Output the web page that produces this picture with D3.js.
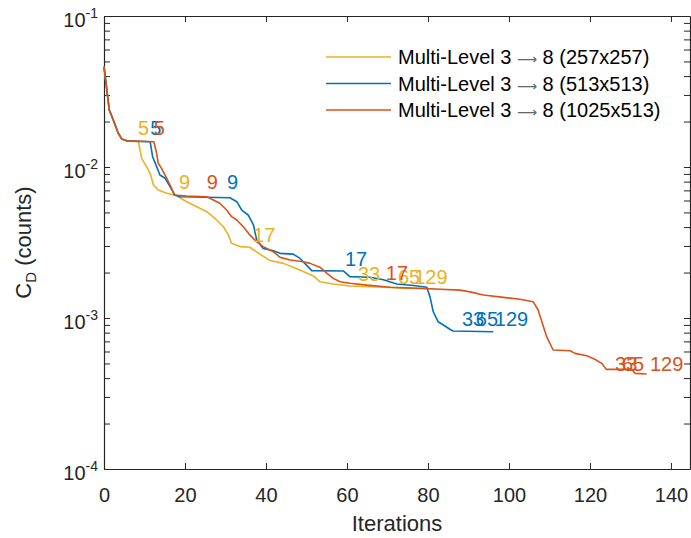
<!DOCTYPE html>
<html>
<head>
<meta charset="utf-8">
<script src="https://cdn.jsdelivr.net/npm/d3@7"></script>
<style>
  body { margin: 0; background: #fff; }
  svg { display: block; font-family: "Liberation Sans", Arial, Helvetica, sans-serif; }
</style>
</head>
<body>
<div id="chart"></div>
<script>
// series: iteration number and drag coefficient
const iter257 = [0, 1.3, 2.3, 3.5, 4.4, 5.6, 8.5, 9.3, 10.5, 11.4, 12.2, 13.4, 15.5, 17.9, 20.4, 22.9, 25.4, 27.8, 29.5, 30.7, 31.5, 33.6, 36.0, 38.5, 41.0, 44.3, 46.7, 49.2, 51.7, 53.3, 56.6, 60.7, 69.0, 76.0];
const cd257 = [0.0462, 0.0239, 0.0205, 0.0168, 0.0153, 0.0149, 0.0147, 0.01142, 0.01005, 0.00908, 0.0076, 0.00704, 0.0067, 0.00645, 0.00589, 0.00546, 0.00506, 0.00446, 0.00402, 0.00355, 0.00313, 0.00297, 0.00294, 0.00265, 0.0024, 0.0023, 0.00217, 0.00203, 0.0019, 0.00174, 0.00168, 0.00163, 0.0016, 0.00157];

const iter513 = [0, 1.3, 2.3, 3.5, 4.4, 5.6, 11.4, 12.0, 13.0, 13.8, 15.1, 16.3, 17.5, 18.8, 31.1, 32.8, 34.0, 35.6, 36.9, 37.7, 39.3, 41.8, 43.5, 46.7, 48.4, 50.0, 51.3, 59.1, 60.7, 65.7, 69.0, 72.3, 76.4, 79.7, 80.5, 81.3, 82.5, 84.2, 85.4, 86.2, 96.1];
const cd513 = [0.0462, 0.0239, 0.0205, 0.0168, 0.0153, 0.0149, 0.0147, 0.0117, 0.01005, 0.00885, 0.00842, 0.00741, 0.00653, 0.00636, 0.00626, 0.00589, 0.00519, 0.00481, 0.00413, 0.00329, 0.00289, 0.00279, 0.00268, 0.00265, 0.00248, 0.00224, 0.00206, 0.00205, 0.00188, 0.00186, 0.00179, 0.00168, 0.00164, 0.0016, 0.00138, 0.0011, 0.000945, 0.000885, 0.000842, 0.00082, 0.000811];

const iter1025 = [0, 1.3, 2.3, 3.5, 4.4, 5.6, 12.3, 13.0, 13.4, 14.2, 15.5, 16.7, 17.3, 20.4, 25.4, 27.0, 28.6, 30.3, 31.5, 32.8, 34.4, 36.0, 37.7, 39.3, 41.8, 43.5, 46.0, 49.2, 50.9, 53.3, 55.0, 56.6, 58.3, 60.7, 64.9, 70.6, 78.0, 83.0, 87.9, 90.4, 93.7, 98.6, 102.7, 106.0, 107.2, 109.3, 110.9, 115.1, 116.3, 119.2, 121.2, 122.9, 124.0, 130.3, 131.1, 134.0];
const cd1025 = [0.0462, 0.0239, 0.0205, 0.0168, 0.0153, 0.0149, 0.0147, 0.01233, 0.01058, 0.0098, 0.00842, 0.00723, 0.00653, 0.00643, 0.00636, 0.00604, 0.00575, 0.00519, 0.00469, 0.00446, 0.00402, 0.00355, 0.0032, 0.00297, 0.00275, 0.00252, 0.00242, 0.00236, 0.0023, 0.00217, 0.00198, 0.00183, 0.00174, 0.0017, 0.00165, 0.0016, 0.00157, 0.00155, 0.00153, 0.00149, 0.00142, 0.00137, 0.00133, 0.00128, 0.00113, 0.000752, 0.000614, 0.000607, 0.000583, 0.000563, 0.000533, 0.000501, 0.000457, 0.000457, 0.00043, 0.000426];

// grid level annotations (text anchor position in data units)
const levelNames = ['5', '9', '17', '33', '65', '129'];
const labelIter257 = [8.4, 18.5, 36.8, 62.7, 72.6, 76.6];
const labelCd257 = [0.01813, 0.00799, 0.00355, 0.00196, 0.00188, 0.00188];
const labelIter513 = [11.4, 30.4, 59.5, 88.4, 91.8, 96.5];
const labelCd513 = [0.01813, 0.00799, 0.00248, 0.000995, 0.000995, 0.000995];
const labelIter1025 = [12.3, 25.4, 69.6, 126.2, 127.9, 134.8];
const labelCd1025 = [0.01813, 0.00799, 0.00198, 0.000501, 0.000501, 0.000501];

const legendNames = ['(257x257)', '(513x513)', '(1025x513)'];
const xTicks = [0, 20, 40, 60, 80, 100, 120, 140];
const yExponents = [-4, -3, -2, -1];

const colors = ['#EDB120', '#0072BD', '#D95319'];
const axisColor = '#262626';

const width = 691, height = 538;
const svg = d3.select('#chart').append('svg')
  .attr('width', width)
  .attr('height', height);

const x = d3.scaleLinear().domain([0, 144.7]).range([104, 690]);
const y = d3.scaleLog().domain([1e-4, 1e-1]).range([469, 16]);

// minor + major ticks of the log axis
const yTickVals = [];
yExponents.forEach(e => {
  for (let m = 1; m < 10; m++) {
    const v = m * Math.pow(10, e);
    if (v <= 1e-1 + 1e-12) yTickVals.push(v);
  }
});

function styleAxis(g) {
  g.select('.domain').attr('stroke', axisColor).attr('stroke-width', 1.2);
  g.selectAll('.tick line').attr('stroke', axisColor).attr('stroke-width', 1);
}

// bottom
svg.append('g')
  .attr('transform', `translate(0,${y.range()[0]})`)
  .call(d3.axisBottom(x).tickValues(xTicks).tickSizeInner(-6).tickSizeOuter(0).tickPadding(19))
  .call(styleAxis)
  .call(g => g.selectAll('text')
    .attr('fill', axisColor)
    .style('font-size', '20px')
    .style('font-family', '"Liberation Sans", Arial, sans-serif'));

// top
svg.append('g')
  .attr('transform', `translate(0,${y.range()[1]})`)
  .call(d3.axisTop(x).tickValues(xTicks).tickSizeInner(-6).tickSizeOuter(0).tickFormat(''))
  .call(styleAxis);

// left
svg.append('g')
  .attr('transform', `translate(${x.range()[0]},0)`)
  .call(d3.axisLeft(y).tickValues(yTickVals).tickSizeInner(-6).tickSizeOuter(0).tickFormat(''))
  .call(styleAxis);

// right
svg.append('g')
  .attr('transform', `translate(${x.range()[1]},0)`)
  .call(d3.axisRight(y).tickValues(yTickVals).tickSizeInner(-6).tickSizeOuter(0).tickFormat(''))
  .call(styleAxis);

// y tick labels 10^e
yExponents.forEach(e => {
  const t = svg.append('text')
    .attr('x', 98)
    .attr('y', y(Math.pow(10, e)) + 11)
    .attr('text-anchor', 'end')
    .attr('fill', axisColor)
    .style('font-size', '20px');
  t.append('tspan').text('10');
  t.append('tspan').attr('dy', -9).style('font-size', '14px').text(String(e));
});

// axis titles
svg.append('text')
  .attr('x', (x.range()[0] + x.range()[1]) / 2)
  .attr('y', 531)
  .attr('text-anchor', 'middle')
  .attr('fill', axisColor)
  .style('font-size', '22px')
  .text('Iterations');

const yl = svg.append('text')
  .attr('transform', `translate(31,${(y.range()[0] + y.range()[1]) / 2}) rotate(-90)`)
  .attr('text-anchor', 'middle')
  .attr('fill', axisColor)
  .style('font-size', '22px');
yl.append('tspan').text('C');
yl.append('tspan').attr('dy', 5).style('font-size', '15px').text('D');
yl.append('tspan').attr('dy', -5).text(' (counts)');

// lines
const line = d3.line()
  .x(d => x(d[0]))
  .y(d => y(d[1]));

const series = [
  { iters: iter257, cds: cd257, li: labelIter257, lc: labelCd257 },
  { iters: iter513, cds: cd513, li: labelIter513, lc: labelCd513 },
  { iters: iter1025, cds: cd1025, li: labelIter1025, lc: labelCd1025 }
];

series.forEach((s, i) => {
  svg.append('path')
    .datum(s.iters.map((v, k) => [v, s.cds[k]]))
    .attr('fill', 'none')
    .attr('stroke', colors[i])
    .attr('stroke-width', 1.6)
    .attr('stroke-linejoin', 'round')
    .attr('d', line);
});

series.forEach((s, i) => {
  svg.selectAll(null)
    .data(levelNames.map((n, k) => ({ n, it: s.li[k], cd: s.lc[k] })))
    .enter()
    .append('text')
    .attr('x', d => x(d.it))
    .attr('y', d => y(d.cd))
    .attr('dy', '0.36em')
    .attr('fill', colors[i])
    .style('font-size', '20px')
    .text(d => d.n);
});

// legend
const legendY = [57, 83.5, 110];
legendNames.forEach((name, i) => {
  svg.append('line')
    .attr('x1', 326).attr('x2', 391)
    .attr('y1', legendY[i]).attr('y2', legendY[i])
    .attr('stroke', colors[i])
    .attr('stroke-width', 1.6);
  const t = svg.append('text')
    .attr('x', 398)
    .attr('y', legendY[i])
    .attr('dy', '0.36em')
    .attr('fill', '#000')
    .style('font-size', '20px');
  t.append('tspan').text('Multi-Level 3 ');
  t.append('tspan')
    .attr('fill', '#666')
    .style('font-family', '"DejaVu Sans", sans-serif')
    .style('font-size', '14px')
    .text('\u27F6');
  t.append('tspan').text(' 8 ' + name);
});
</script>
</body>
</html>
